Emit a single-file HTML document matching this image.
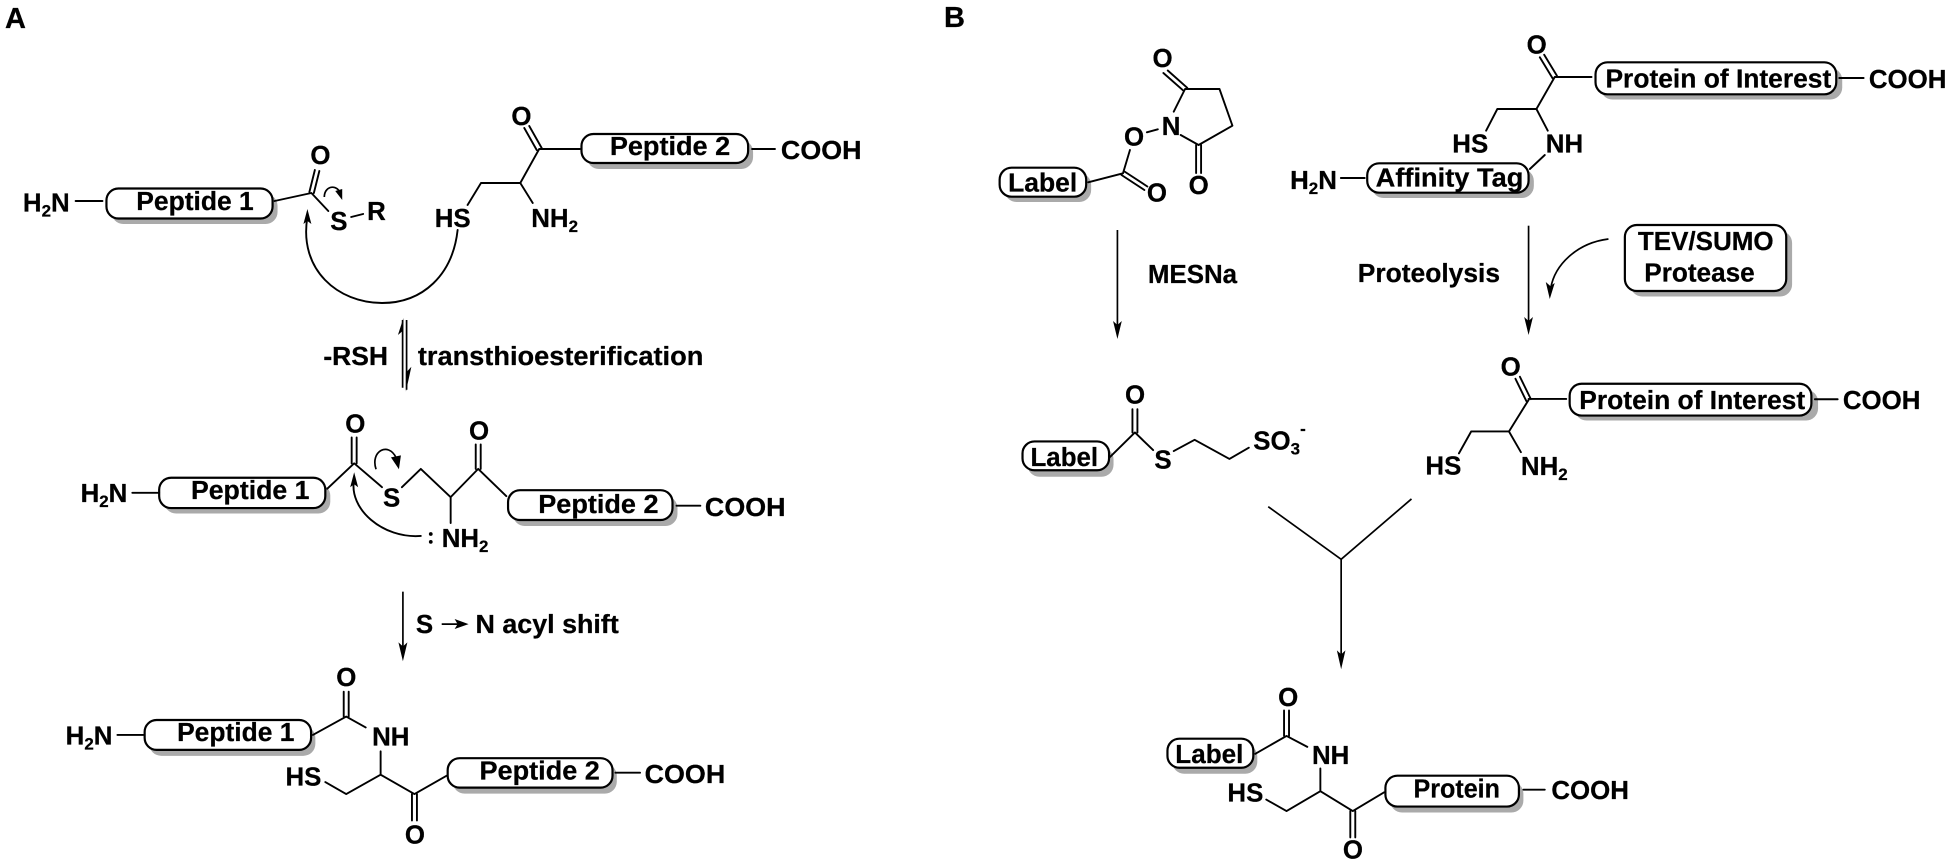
<!DOCTYPE html>
<html lang="en"><head><meta charset="utf-8"><title>Native chemical ligation</title>
<style>
html,body{margin:0;padding:0;background:#fff;width:1950px;height:865px;overflow:hidden}
svg{display:block}
text{font-family:"Liberation Sans",sans-serif;font-weight:700;font-size:26px;fill:#000;stroke:#000;stroke-width:.25}
.s{font-size:17px}
.h{font-size:29px}
.b{fill:none;stroke:#000;stroke-width:1.9;stroke-linecap:round;stroke-linejoin:round}
.t{fill:none;stroke:#000;stroke-width:1.7}
.bx{fill:#fff;stroke:#000;stroke-width:2.2}
.sh{fill:#aaa}
</style></head><body>
<svg width="1950" height="865" viewBox="0 0 1950 865" xmlns="http://www.w3.org/2000/svg">
<rect width="1950" height="865" fill="#fff"/>

<text class="h" x="5" y="28">A</text>
<text class="h" x="944" y="27">B</text>

<g transform="matrix(.99483 0 0 1 0 0)">
<!-- A molecule 1 -->
<rect class="sh" x="112" y="194" width="167" height="30" rx="12"/>
<rect class="bx" x="107" y="188.5" width="167" height="30" rx="12"/>
<rect class="sh" x="590" y="140" width="167" height="29" rx="12"/>
<rect class="bx" x="584.5" y="134" width="167.5" height="29" rx="12"/>
<path class="b" d="M76 201H103M276 201L313 193L330 211M311 192L316.5 170M315.5 193L321 171M353 217L365 214
M542 149L523 183H483.5L470 205M523 183L535.5 203M542 149H583M539.5 150L527 128M544.5 148L532 126M756 149H779"/>
<path class="b" d="M460 230C455 275 425 303 384 303C340 303 300 270 309 217"/>
<path d="M309 209L305 224L309 221L313 224Z"/>
<path class="t" d="M326 197C326 187 336 184 341 191"/><path d="M344 200L337 191L344 189Z"/>
<text x="23" y="211.5">H<tspan class="s" dy="5">2</tspan><tspan dy="-5">N</tspan></text>
<text x="137" y="210" textLength="118" lengthAdjust="spacingAndGlyphs">Peptide 1</text>
<text x="312" y="164">O</text>
<text x="332" y="230">S</text>
<text x="369" y="220">R</text>
<text x="514" y="125">O</text>
<text x="613" y="155" textLength="121" lengthAdjust="spacingAndGlyphs">Peptide 2</text>
<text x="785" y="159" textLength="81" lengthAdjust="spacingAndGlyphs">COOH</text>
<text x="437" y="227">HS</text>
<text x="534" y="227">NH<tspan class="s" dy="5">2</tspan></text>
</g>

<g transform="matrix(.99483 0 0 .9949 0 1.683)">
<!-- equilibrium arrows -->
<path class="t" d="M404.7 320V388M408.7 320V390"/>
<path d="M405.5 318L400 335L404.7 331Z"/>
<path d="M408 392L413.5 367L408 373Z"/>
<text x="325" y="365" textLength="65" lengthAdjust="spacingAndGlyphs">-RSH</text>
<text x="420" y="365" textLength="287" lengthAdjust="spacingAndGlyphs">transthioesterification</text>

<!-- A molecule 2 -->
<rect class="sh" x="165" y="484.5" width="167" height="30" rx="12"/>
<rect class="bx" x="160" y="478.5" width="167" height="30.5" rx="12"/>
<rect class="sh" x="515.5" y="497" width="165.5" height="30" rx="12"/>
<rect class="bx" x="510.7" y="491" width="165.3" height="30" rx="12"/>
<path class="b" d="M133 493.6H160M329 489.5L356 464L384 488M353.5 464V438M358.5 464V438M404 488L423 469.6L453 498L480.7 469.6L509 497
M478.2 469.6V445M483.2 469.6V445M453 498V524M680 506.6H704"/>
<path class="b" d="M423 537C385 540 350 510 356 480"/>
<path d="M356 473L352 488L356 485L360 488Z"/>
<path class="t" d="M378 470C372 452 390 442 398 458"/><path d="M401 470L393 458L403 456Z"/>
<circle cx="433" cy="535" r="1.9"/><circle cx="433" cy="543" r="1.9"/>
<text x="81" y="503">H<tspan class="s" dy="5">2</tspan><tspan dy="-5">N</tspan></text>
<text x="192" y="500" textLength="119" lengthAdjust="spacingAndGlyphs">Peptide 1</text>
<text x="347" y="433">O</text>
<text x="385" y="507.5">S</text>
<text x="471.5" y="440">O</text>
<text x="541" y="514" textLength="121" lengthAdjust="spacingAndGlyphs">Peptide 2</text>
<text x="708.6" y="517" textLength="81" lengthAdjust="spacingAndGlyphs">COOH</text>
<text x="444" y="548">NH<tspan class="s" dy="5">2</tspan></text>

<!-- S to N arrow -->
<path class="t" d="M405 593V650"/>
<path d="M405 663L400.5 644L405 648L409.5 644Z"/>
<text x="418" y="634.5">S</text>
<path class="t" d="M444 625.6H460"/><path d="M471 625.6L457 620.5L460 625.6L457 630.5Z"/>
<text x="478" y="634.5" textLength="144" lengthAdjust="spacingAndGlyphs">N acyl shift</text>

<!-- A molecule 3 -->
<rect class="sh" x="150" y="728" width="167" height="30" rx="12"/>
<rect class="bx" x="145.4" y="722" width="167.3" height="30" rx="12"/>
<rect class="sh" x="455" y="766" width="165" height="30" rx="12"/>
<rect class="bx" x="450" y="760.4" width="165.7" height="29.6" rx="12"/>
<path class="b" d="M118 737H144M314.5 737L348 718.5L367.6 729.5M345.5 718.5V693.5M350.5 718.5V693.5M382.6 753.5V777L348 796.4L327 784.4
M382.6 777L416.6 796.4L449 778M414.1 796.4V823M419.1 796.4V823M618.6 775H643.4"/>
<text x="66" y="746.6">H<tspan class="s" dy="5">2</tspan><tspan dy="-5">N</tspan></text>
<text x="178" y="743" textLength="118" lengthAdjust="spacingAndGlyphs">Peptide 1</text>
<text x="338" y="688">O</text>
<text x="374" y="747.7">NH</text>
<text x="287" y="788">HS</text>
<text x="407" y="846">O</text>
<text x="482" y="782" textLength="121" lengthAdjust="spacingAndGlyphs">Peptide 2</text>
<text x="648" y="785.4" textLength="81" lengthAdjust="spacingAndGlyphs">COOH</text>
</g>

<g transform="matrix(.9948 0 0 1 4.836 0)">
<!-- B label-NHS -->
<rect class="sh" x="1005" y="173" width="87" height="29" rx="12"/>
<rect class="bx" x="1000" y="167.7" width="87" height="29" rx="12"/>
<path class="b" d="M1089 182.3L1124 173.3L1131 150M1122.5 175L1145.5 190M1125.5 171.5L1148.5 186.5M1148 132.3L1159 129.3
M1175 111.7L1186.4 89H1221L1234 125.7L1200 145L1182 135M1188.6 87.8L1169 70.5M1184.2 90.2L1164.6 73M1197.5 145V173M1202.5 145V173"/>
<text x="1008.5" y="191.7" textLength="69.5" lengthAdjust="spacingAndGlyphs">Label</text>
<text x="1148" y="201.7">O</text>
<text x="1125" y="145.7">O</text>
<text x="1163" y="135">N</text>
<text x="1153.7" y="67">O</text>
<text x="1190" y="194">O</text>

<!-- B protein with tag -->
<rect class="sh" x="1604" y="68" width="243" height="31.5" rx="12"/>
<rect class="bx" x="1599" y="62.3" width="242" height="32" rx="12"/>
<rect class="sh" x="1374" y="169" width="163" height="29" rx="12"/>
<rect class="bx" x="1369.5" y="163.3" width="162.2" height="29.4" rx="12"/>
<path class="b" d="M1558 77L1539.6 109H1500.3L1489 130.7M1539.6 109L1551 130.7M1558 77H1595M1555.8 78.3L1543 57.3M1560.2 75.7L1547.4 54.7M1844 78H1868.5M1548 155L1533 169M1343 178H1367"/>
<text x="1529.7" y="53.3">O</text>
<text x="1609" y="87.3" textLength="227" lengthAdjust="spacingAndGlyphs">Protein of Interest</text>
<text x="1873.8" y="88">COOH</text>
<text x="1455" y="152.7">HS</text>
<text x="1549" y="152.7">NH</text>
<text x="1292" y="189">H<tspan class="s" dy="5">2</tspan><tspan dy="-5">N</tspan></text>
<text x="1378" y="186.7" textLength="148.5" lengthAdjust="spacingAndGlyphs">Affinity Tag</text>

<!-- B arrows -->
<path class="t" d="M1118.4 230V326"/><path d="M1118.4 339L1114 321L1118.4 325L1122.8 321Z"/>
<text x="1149" y="283" textLength="89.7" lengthAdjust="spacingAndGlyphs">MESNa</text>
<text x="1360" y="282" textLength="143" lengthAdjust="spacingAndGlyphs">Proteolysis</text>
<path class="t" d="M1531.7 225.7V322"/><path d="M1531.7 335L1527.3 317L1531.7 321L1536.1 317Z"/>
<rect class="sh" x="1634" y="231" width="162.6" height="65.5" rx="12"/>
<rect class="bx" x="1628.5" y="225" width="162.2" height="66" rx="12"/>
<text x="1641.6" y="250" textLength="136.4" lengthAdjust="spacingAndGlyphs">TEV/SUMO</text>
<text x="1648" y="281.7" textLength="111" lengthAdjust="spacingAndGlyphs">Protease</text>
<path class="t" d="M1612 239C1580 243 1558 265 1554 288"/><path d="M1553 299L1549 282L1553.5 286L1558 283Z"/>
</g>

<g transform="matrix(.9948 0 0 .9949 4.836 1.683)">
<!-- B label thioester -->
<rect class="sh" x="1028" y="448" width="86.5" height="29.5" rx="12"/>
<rect class="bx" x="1023" y="442" width="87" height="29" rx="12"/>
<path class="b" d="M1111 457.6L1136 433L1154.3 450.7M1133.5 433V409.6M1138.5 433V409.6M1175 451.7L1196 440.4L1231 459.6L1250.5 448.3"/>
<text x="1031" y="466.5" textLength="68" lengthAdjust="spacingAndGlyphs">Label</text>
<text x="1126" y="403.7">O</text>
<text x="1155.6" y="469">S</text>
<text x="1255" y="450">SO<tspan class="s" dy="5">3</tspan><tspan class="s" dy="-20">-</tspan></text>

<!-- B protein free Cys -->
<rect class="sh" x="1578" y="390" width="244.7" height="31" rx="12"/>
<rect class="bx" x="1573" y="384" width="243" height="32" rx="12"/>
<path class="b" d="M1531.7 400.3L1512 432H1474L1461.7 454M1512 432L1524 452.8M1531.7 399.3H1569.6M1529.5 401.5L1518.5 379M1534 399.5L1523 377M1819.5 399.6H1842.4"/>
<text x="1503.6" y="375.6">O</text>
<text x="1582.7" y="409.6" textLength="227" lengthAdjust="spacingAndGlyphs">Protein of Interest</text>
<text x="1847.6" y="409.6">COOH</text>
<text x="1428" y="475">HS</text>
<text x="1524" y="475.7">NH<tspan class="s" dy="5">2</tspan></text>

<!-- Y junction -->
<path class="t" d="M1270 507.6L1343.3 560.5L1414 499.8M1343.3 560.5V658"/>
<path d="M1343.3 671L1339 652L1343.3 656L1347.6 652Z"/>

<!-- B product -->
<rect class="sh" x="1173.5" y="746.5" width="85.5" height="29.5" rx="12"/>
<rect class="bx" x="1168.7" y="740.8" width="86.3" height="29.2" rx="12"/>
<rect class="sh" x="1392.5" y="784" width="134" height="31" rx="12"/>
<rect class="bx" x="1387.8" y="778" width="134.2" height="31" rx="12"/>
<path class="b" d="M1257 756L1288.4 738L1309.3 749M1285.9 738V712.4M1290.9 738V712.4M1322.4 770.7V793.6L1288.4 813.5L1268 802M1322.4 793.6L1355 813.5L1386.5 794.7M1352.5 813.5V840M1357.5 813.5V840M1526.5 792H1548"/>
<text x="1280" y="708">O</text>
<text x="1176.6" y="765" textLength="68.4" lengthAdjust="spacingAndGlyphs">Label</text>
<text x="1314" y="766">NH</text>
<text x="1229" y="804">HS</text>
<text x="1345" y="861">O</text>
<text x="1416" y="800" textLength="87" lengthAdjust="spacingAndGlyphs">Protein</text>
<text x="1554.6" y="801.5">COOH</text>
</g>
</svg>
</body></html>
